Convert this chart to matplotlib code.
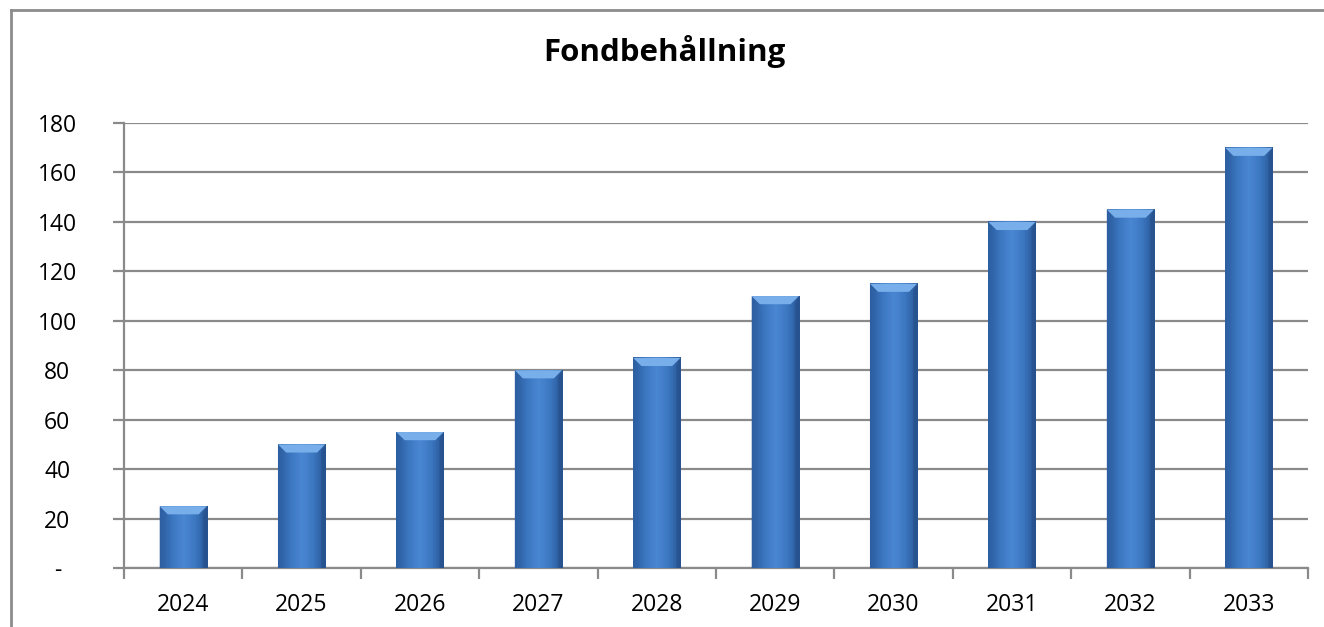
import numpy as np
import matplotlib
matplotlib.use("Agg")
import matplotlib.pyplot as plt
from matplotlib.colors import LinearSegmentedColormap
from matplotlib.patches import Polygon

plt.rcParams['font.family'] = ['Open Sans', 'DejaVu Sans']

years = ['2024', '2025', '2026', '2027', '2028', '2029', '2030', '2031', '2032', '2033']
values = [25, 50, 55, 80, 85, 110, 115, 140, 145, 170]
yticks = [0, 20, 40, 60, 80, 100, 120, 140, 160, 180]
ytick_labels = ['-', '20', '40', '60', '80', '100', '120', '140', '160', '180']

fig = plt.figure(figsize=(13.24, 6.27), dpi=100)
ax = fig.add_axes([124 / 1324, 1 - 568 / 627, (1308 - 124) / 1324, (568 - 123) / 627])

# outer chart frame (top and left edges visible)
fig.add_artist(plt.Line2D([11 / 1324, 11 / 1324], [0, 1 - 10 / 627], transform=fig.transFigure, color='#8c8c8c', lw=2))
fig.add_artist(plt.Line2D([11 / 1324, 1], [1 - 10 / 627, 1 - 10 / 627], transform=fig.transFigure, color='#8c8c8c', lw=2))

x = np.arange(len(years))
width = 0.4
bars = ax.bar(x, values, width=width, color='none', zorder=3)

# horizontal gradient for the bar bodies
cmap = LinearSegmentedColormap.from_list('barblue', ['#2b5b9b', '#3b76c0', '#4a87d3', '#3b76c0', '#285592'])
grad = np.linspace(0, 1, 64).reshape(1, -1)
for b in bars:
    x0, w, h = b.get_x(), b.get_width(), b.get_height()
    ax.imshow(grad, cmap=cmap, aspect='auto', extent=(x0, x0 + w, 0, h), zorder=3)
    # top bevel
    d = 0.07
    dh = 3.3
    ax.add_patch(Polygon([(x0, h), (x0 + w, h), (x0 + w - d, h - dh), (x0 + d, h - dh)],
                         closed=True, facecolor='#78aeea', edgecolor='none', zorder=4))
    # side bevels
    ax.add_patch(Polygon([(x0, 0), (x0, h), (x0 + d * 0.5, h - dh), (x0 + d * 0.5, 0)],
                         closed=True, facecolor='#2f63a8', edgecolor='none', zorder=4, alpha=0.6))
    ax.add_patch(Polygon([(x0 + w, 0), (x0 + w, h), (x0 + w - d * 0.5, h - dh), (x0 + w - d * 0.5, 0)],
                         closed=True, facecolor='#254f8a', edgecolor='none', zorder=4, alpha=0.6))

ax.set_xlim(-0.5, len(years) - 0.5)
ax.set_ylim(0, 180)
ax.set_yticks(yticks)
ax.set_yticklabels(ytick_labels)
ax.set_xticks(x)
ax.set_xticklabels(years)
ax.set_xticks(np.arange(len(years) + 1) - 0.5, minor=True)

ax.grid(axis='y', color='#8a8a8a', lw=1.6, zorder=1)
ax.set_axisbelow(True)
for s in ['top', 'right']:
    ax.spines[s].set_visible(False)
for s in ['left', 'bottom']:
    ax.spines[s].set_color('#8a8a8a')
    ax.spines[s].set_linewidth(1.6)

ax.tick_params(axis='x', which='major', length=0, labelsize=16.5, pad=18)
ax.tick_params(axis='x', which='minor', length=8, width=1.6, color='#8a8a8a')
ax.tick_params(axis='y', length=8, width=1.6, color='#8a8a8a', labelsize=16.5, pad=40)
for lbl in ax.get_yticklabels():
    lbl.set_horizontalalignment('center')

fig.text(664 / 1324, 1 - 52 / 627, 'Fondbehållning', ha='center', va='center',
         fontsize=22.5, fontweight='bold')

fig.savefig('out.png', dpi=100)
